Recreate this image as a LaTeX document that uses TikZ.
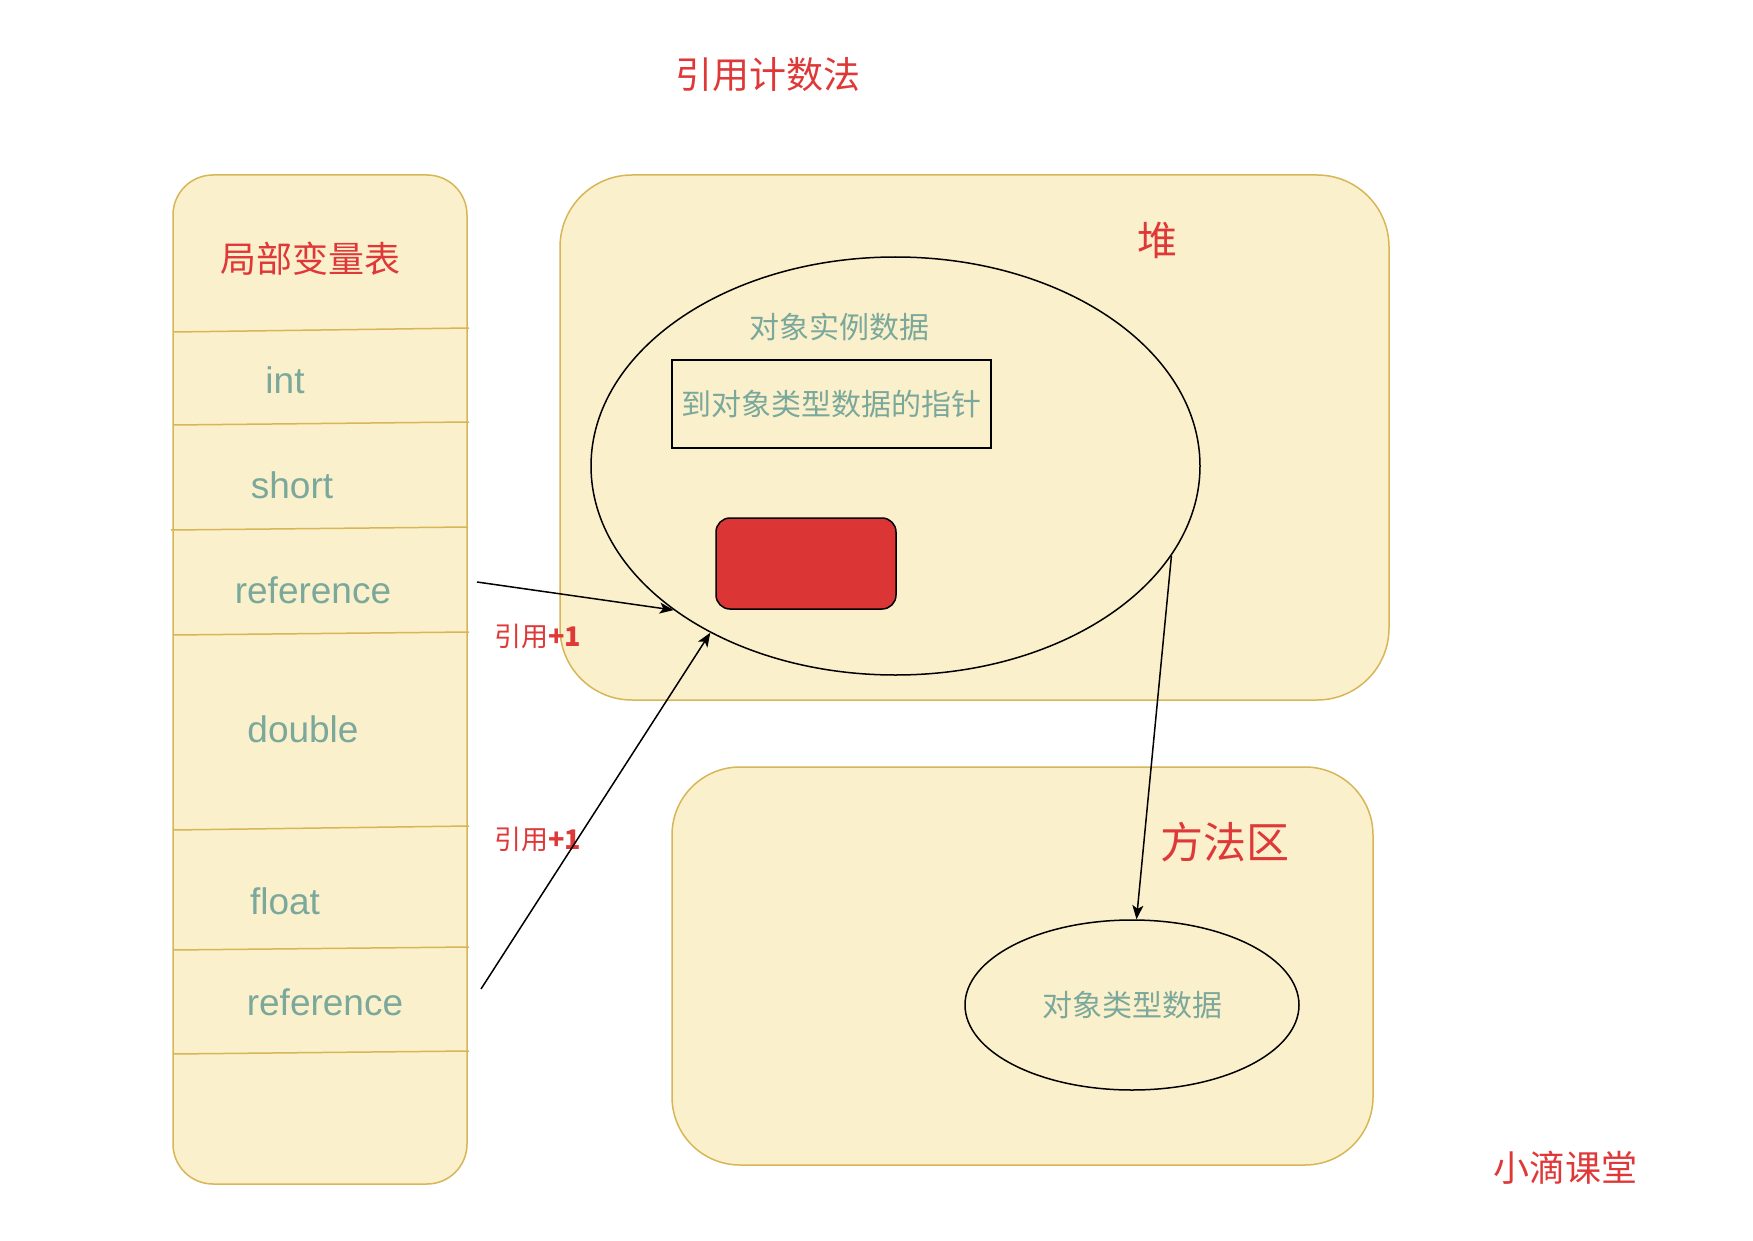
\documentclass[tikz,border=0pt]{standalone}
\usepackage{fontspec}
\setmainfont{Liberation Sans}
\newfontfamily\cjk{Noto Sans CJK SC}
\usetikzlibrary{shapes.geometric,arrows.meta}
\definecolor{boxfill}{RGB}{251,240,204}
\definecolor{boxline}{RGB}{214,182,86}
\definecolor{tealtxt}{RGB}{122,168,155}
\definecolor{redtxt}{RGB}{222,56,56}
\definecolor{redfill}{RGB}{220,53,53}
\tikzset{
  area/.style={draw=boxline,fill=boxfill,line width=1.5pt,inner sep=0pt},
  sep/.style={draw=boxline,line width=1.5pt},
  oval/.style={ellipse,draw=black,line width=1.5pt,inner sep=0pt},
  vartxt/.style={text=tealtxt,font=\fontsize{37}{44}\selectfont,inner sep=0pt},
  cjkteal/.style={text=tealtxt,font=\cjk\fontsize{30}{36}\selectfont,inner sep=0pt},
  cjkred/.style={text=redtxt,font=\cjk\fontsize{#1}{#1}\selectfont,inner sep=0pt},
  conn/.style={draw=black,line width=1.5pt,-{Stealth[length=14pt,width=11pt,inset=3.5pt]}}
}
\begin{document}
\begin{tikzpicture}[x=1pt,y=-1pt]
\useasboundingbox (0,0) rectangle (1753,1241);
% areas
\node[area,rounded corners=40pt,minimum width=294pt,minimum height=1009pt] (lvt) at (320,679.5) {};
\node[area,rounded corners=72pt,minimum width=829pt,minimum height=525pt] (heap) at (974.5,437.5) {};
\node[area,rounded corners=68pt,minimum width=701pt,minimum height=398pt] (method) at (1022.5,966) {};
% separator lines
\draw[sep] (173,332) -- (469,328);
\draw[sep] (173,425) -- (469,422);
\draw[sep] (171,530) -- (468,527);
\draw[sep] (173,635) -- (469,632);
\draw[sep] (173,830) -- (469,826);
\draw[sep] (173,950) -- (469,947);
\draw[sep] (173,1054) -- (469,1051);
% titles
\node[cjkred=37] (title) at (768,75) {引用计数法};
\node[cjkred=36] (lvttitle) at (310,259) {局部变量表};
\node[cjkred=40] (heaptitle) at (1157,240) {堆};
\node[cjkred=43] (methodtitle) at (1225,842) {方法区};
\node[cjkred=36] (brand) at (1565,1168) {小滴课堂};
% variables
\node[vartxt] (vint) at (285,380) {int};
\node[vartxt] (vshort) at (292,485) {short};
\node[vartxt] (vref1) at (313,590) {reference};
\node[vartxt] (vdouble) at (303,729) {double};
\node[vartxt] (vfloat) at (285,901) {float};
\node[vartxt] (vref2) at (325,1002) {reference};
% heap content
\node[oval,minimum width=609pt,minimum height=418pt] (inst) at (895.5,466) {};
\node[cjkteal] (insttxt) at (839,327) {对象实例数据};
\node[draw=black,line width=1.5pt,minimum width=319pt,minimum height=88pt,inner sep=0pt,cjkteal] (ptr) at (831.5,404) {到对象类型数据的指针};
\node[draw=black,line width=1.5pt,fill=redfill,rounded corners=14pt,minimum width=180pt,minimum height=91pt,inner sep=0pt] (obj) at (806,563.5) {};
% method content
\node[oval,minimum width=334pt,minimum height=170pt] (type) at (1132,1005) {};
\node[cjkteal] (typetxt) at (1132,1005) {对象类型数据};
% labels
\node[cjkred=27,anchor=west] (lab1) at (494,636) {引用{\bfseries +1}};
\node[cjkred=27,anchor=west] (lab2) at (494,839) {引用{\bfseries +1}};
% connectors
\coordinate (s1) at (477,582);
\coordinate (s2) at (481,989);
\draw[conn] (s1) -- (inst.213.8);
\draw[conn] (s2) -- (inst.222.1);
\draw[conn] (inst.342.2) -- (type.87);
\end{tikzpicture}
\end{document}
